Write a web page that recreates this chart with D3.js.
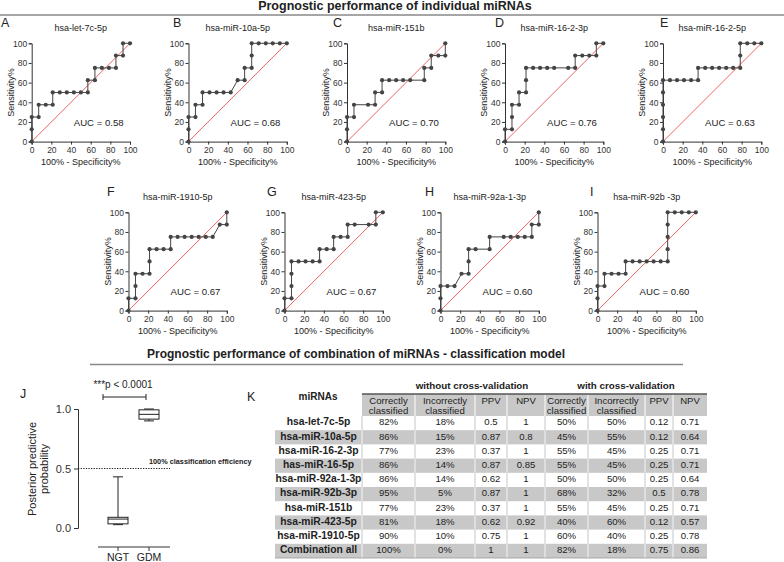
<!DOCTYPE html>
<html><head><meta charset="utf-8">
<script src="https://cdn.jsdelivr.net/npm/d3@7"></script>
<style>body{margin:0;background:#fff} svg{display:block;font-family:"Liberation Sans",Arial,Helvetica,sans-serif}</style>
</head><body><svg id="c" width="784" height="562"></svg>
<script>
// ---------- DATA ----------
const rocTitles = ["hsa-let-7c-5p","hsa-miR-10a-5p","hsa-miR-151b","hsa-miR-16-2-3p","hsa-miR-16-2-5p","hsa-miR-1910-5p","hsa-miR-423-5p","hsa-miR-92a-1-3p","hsa-miR-92b -3p"];
const rocLetters = ["A","B","C","D","E","F","G","H","I"];
const rocAUC = ["0.58","0.68","0.70","0.76","0.63","0.67","0.67","0.60","0.60"];
const rocA = [[0,0],[0,12.5],[0,25],[7.1,25],[7.1,37.5],[14.3,37.5],[21.4,37.5],[21.4,50],[28.6,50],[35.7,50],[42.9,50],[50,50],[57.1,50],[57.1,62.5],[64.3,62.5],[64.3,75],[71.4,75],[78.6,75],[85.7,75],[85.7,87.5],[92.9,87.5],[92.9,100],[100,100]];
const rocB = [[0,0],[0,12.5],[0,25],[7.1,25],[7.1,37.5],[14.3,37.5],[14.3,50],[21.4,50],[28.6,50],[35.7,50],[42.9,50],[50,62.5],[57.1,62.5],[57.1,75],[64.3,75],[64.3,87.5],[64.3,100],[71.4,100],[78.6,100],[85.7,100],[92.9,100],[100,100]];
const rocC = [[0,0],[0,12.5],[0,25],[7.1,25],[7.1,37.5],[21.4,37.5],[28.6,37.5],[28.6,50],[35.7,50],[35.7,62.5],[42.9,62.5],[50,62.5],[57.1,62.5],[64.3,62.5],[78.6,62.5],[78.6,75],[85.7,75],[85.7,87.5],[92.9,87.5],[100,87.5],[100,100]];
const rocD = [[0,0],[0,12.5],[7.1,12.5],[7.1,25],[7.1,37.5],[14.3,37.5],[14.3,50],[21.4,50],[21.4,62.5],[21.4,75],[28.6,75],[35.7,75],[42.9,75],[50,75],[64.3,75],[71.4,75],[71.4,87.5],[78.6,87.5],[85.7,87.5],[92.9,87.5],[92.9,100],[100,100]];
const rocE = [[0,0],[0,12.5],[0,25],[0,37.5],[0,50],[0,62.5],[7.1,62.5],[14.3,62.5],[21.4,62.5],[28.6,62.5],[35.7,62.5],[35.7,75],[42.9,75],[50,75],[57.1,75],[64.3,75],[71.4,75],[78.6,75],[78.6,87.5],[78.6,100],[85.7,100],[92.9,100],[100,100]];
const rocF = [[0,0],[0,12.5],[7.1,12.5],[7.1,25],[7.1,37.5],[14.3,37.5],[21.4,37.5],[21.4,50],[21.4,62.5],[28.6,62.5],[35.7,62.5],[42.9,62.5],[42.9,75],[50,75],[57.1,75],[64.3,75],[71.4,75],[78.6,75],[85.7,75],[92.9,87.5],[100,87.5],[100,100]];
const rocG = [[0,0],[0,12.5],[7.1,12.5],[7.1,25],[7.1,37.5],[7.1,50],[14.3,50],[21.4,50],[28.6,50],[35.7,50],[35.7,62.5],[42.9,62.5],[50,62.5],[50,75],[57.1,75],[64.3,75],[64.3,87.5],[71.4,87.5],[85.7,87.5],[92.9,87.5],[92.9,100],[100,100]];
const rocH = [[0,0],[0,12.5],[0,25],[7.1,25],[14.3,25],[21.4,37.5],[28.6,37.5],[28.6,50],[28.6,62.5],[35.7,62.5],[50,62.5],[50,75],[64.3,75],[71.4,75],[78.6,75],[85.7,75],[92.9,75],[92.9,87.5],[100,87.5],[100,100]];
const rocI = [[0,0],[0,12.5],[0,25],[7.1,25],[7.1,37.5],[14.3,37.5],[21.4,37.5],[28.6,37.5],[28.6,50],[35.7,50],[42.9,50],[50,50],[57.1,50],[64.3,50],[71.4,50],[71.4,62.5],[71.4,75],[71.4,87.5],[71.4,100],[78.6,100],[85.7,100],[92.9,100],[100,100]];
const rocData = [rocA,rocB,rocC,rocD,rocE,rocF,rocG,rocH,rocI];
const rocTicks = [0,20,40,60,80,100];

const boxGroups = ["NGT","GDM"];
const boxMin = [0.028,0.90];
const boxQ1  = [0.035,0.915];
const boxMed = [0.075,0.955];
const boxQ3  = [0.09,0.993];
const boxMax = [0.43,1.0];
const boxTicks = [0.0,0.5,1.0];

const tblNames = ["hsa-let-7c-5p","hsa-miR-10a-5p","hsa-miR-16-2-3p","has-miR-16-5p","hsa-miR-92a-1-3p","hsa-miR-92b-3p","hsa-miR-151b","hsa-miR-423-5p","hsa-miR-1910-5p","Combination all"];
const woCorrect = ["82%","86%","77%","86%","86%","95%","77%","81%","90%","100%"];
const woIncorrect = ["18%","15%","23%","14%","14%","5%","23%","18%","10%","0%"];
const woPPV = ["0.5","0.87","0.37","0.87","0.62","0.87","0.37","0.62","0.75","1"];
const woNPV = ["1","0.8","1","0.85","1","1","1","0.92","1","1"];
const cvCorrect = ["50%","45%","55%","55%","50%","68%","55%","40%","60%","82%"];
const cvIncorrect = ["50%","55%","45%","45%","50%","32%","45%","60%","40%","18%"];
const cvPPV = ["0.12","0.12","0.25","0.25","0.25","0.5","0.25","0.12","0.25","0.75"];
const cvNPV = ["0.71","0.64","0.71","0.71","0.64","0.78","0.71","0.57","0.78","0.86"];

// ---------- LAYOUT ----------
const svg = d3.select("#c");
const txt = "#222";
const panelX0 = [31.7,188.5,347,505,663,128.5,284.5,440.5,597.5];
const panelTop = [43.3,43.3,43.3,43.3,43.3,212.3,212.3,212.3,212.3];
const letterX = [1,173,333,495,660,107,267,425,590];
const PW = 98.3, PH = 98.3;

// Section titles
svg.append("text").attr("x",395).attr("y",10).attr("text-anchor","middle")
  .attr("font-size",12.5).attr("font-weight","bold").attr("fill",txt)
  .text("Prognostic performance of individual miRNAs");
svg.append("line").attr("x1",0).attr("x2",784).attr("y1",15).attr("y2",15)
  .attr("stroke","#888").attr("stroke-width",1.5);
svg.append("text").attr("x",356).attr("y",358).attr("text-anchor","middle")
  .attr("font-size",12).attr("font-weight","bold").attr("fill",txt)
  .text("Prognostic performance of combination of miRNAs - classification model");
svg.append("line").attr("x1",90).attr("x2",683).attr("y1",364.5).attr("y2",364.5)
  .attr("stroke","#888").attr("stroke-width",1.5);

// ROC panels
rocData.forEach((pts,i)=>{
  const x0 = panelX0[i], top = panelTop[i];
  const x = d3.scaleLinear().domain([0,100]).range([x0,x0+PW]);
  const y = d3.scaleLinear().domain([0,100]).range([top+PH,top]);
  const g = svg.append("g");
  g.append("text").attr("x",letterX[i]).attr("y",top-16).attr("font-size",12.5).attr("fill",txt).text(rocLetters[i]);
  g.append("text").attr("x",x0+PW/2).attr("y",top-12).attr("text-anchor","middle").attr("font-size",9).attr("fill",txt).text(rocTitles[i]);
  // diagonal reference line
  g.append("line").attr("x1",x(0)).attr("y1",y(0)).attr("x2",x(100)).attr("y2",y(100))
    .attr("stroke","#ec6464").attr("stroke-width",1);
  const ay = g.append("g").attr("transform",`translate(${x0},0)`)
    .call(d3.axisLeft(y).tickValues(rocTicks).tickSize(3).tickPadding(1.5));
  const ax = g.append("g").attr("transform",`translate(0,${top+PH})`)
    .call(d3.axisBottom(x).tickValues(rocTicks).tickSize(3).tickPadding(2.5));
  [ay,ax].forEach(a=>{
    a.selectAll("text").attr("font-size",8.5).attr("fill","#333").attr("font-family",null);
    a.selectAll("path,line").attr("stroke","#333");
  });
  g.append("text").attr("transform",`translate(${x0-18},${top+PH/2}) rotate(-90)`)
    .attr("text-anchor","middle").attr("font-size",9).attr("fill",txt).text("Sensitivity%");
  g.append("text").attr("x",x0+PW/2).attr("y",top+PH+23.5).attr("text-anchor","middle")
    .attr("font-size",9).attr("fill",txt).text("100% - Specificity%");
  g.append("path").datum(pts).attr("fill","none").attr("stroke","#444").attr("stroke-width",1)
    .attr("d",d3.line().x(d=>x(d[0])).y(d=>y(d[1])));
  g.selectAll("circle").data(pts).join("circle").attr("cx",d=>x(d[0])).attr("cy",d=>y(d[1]))
    .attr("r",2.1).attr("fill","#444");
  g.append("text").attr("x",x0+67).attr("y",y(19.5)+3.5).attr("text-anchor","middle")
    .attr("font-size",9.6).attr("fill",txt).text("AUC = "+rocAUC[i]);
});

// Panel J
{
  const yb = d3.scaleLinear().domain([0,1]).range([528,409]);
  const xb = d3.scalePoint().domain(boxGroups).range([118,149]);
  const g = svg.append("g");
  g.append("text").attr("x",20).attr("y",398).attr("font-size",12.5).attr("fill",txt).text("J");
  const ay = g.append("g").attr("transform","translate(78,0)")
    .call(d3.axisLeft(yb).tickValues(boxTicks).tickFormat(d3.format(".1f")).tickSize(4).tickPadding(3));
  ay.selectAll("text").attr("font-size",11).attr("fill","#333");
  ay.selectAll("path,line").attr("stroke","#333");
  const ax = g.append("g").attr("transform","translate(0,547)");
  ax.append("line").attr("x1",98).attr("x2",170).attr("stroke","#333");
  ax.selectAll("line.t").data(boxGroups).join("line").attr("class","t")
    .attr("x1",d=>xb(d)).attr("x2",d=>xb(d)).attr("y1",0).attr("y2",4).attr("stroke","#333");
  ax.selectAll("text").data(boxGroups).join("text").attr("x",d=>xb(d)).attr("y",13.6)
    .attr("text-anchor","middle").attr("font-size",10.5).attr("fill",txt).text(d=>d);
  g.append("text").attr("transform","translate(36,469) rotate(-90)").attr("text-anchor","middle")
    .attr("font-size",11).attr("fill",txt).text("Posterior predictive");
  g.append("text").attr("transform","translate(48,469) rotate(-90)").attr("text-anchor","middle")
    .attr("font-size",11).attr("fill",txt).text("probability");
  // dotted 0.5 line
  g.append("line").attr("x1",78).attr("x2",170).attr("y1",yb(0.5)).attr("y2",yb(0.5))
    .attr("stroke","#222").attr("stroke-width",1.1).attr("stroke-dasharray","1.3,1.3");
  g.append("text").attr("x",149).attr("y",yb(0.5)-5).attr("font-size",7.3).attr("font-weight","bold")
    .attr("fill",txt).text("100% classification efficiency");
  const bw = 20;
  boxGroups.forEach((k,i)=>{
    const cx = xb(k);
    g.append("line").attr("x1",cx).attr("x2",cx).attr("y1",yb(boxMax[i])).attr("y2",yb(boxQ3[i])).attr("stroke","#222");
    g.append("line").attr("x1",cx).attr("x2",cx).attr("y1",yb(boxQ1[i])).attr("y2",yb(boxMin[i])).attr("stroke","#222");
    g.append("line").attr("x1",cx-bw/4).attr("x2",cx+bw/4).attr("y1",yb(boxMax[i])).attr("y2",yb(boxMax[i])).attr("stroke","#222");
    g.append("line").attr("x1",cx-bw/4).attr("x2",cx+bw/4).attr("y1",yb(boxMin[i])).attr("y2",yb(boxMin[i])).attr("stroke","#222");
    g.append("rect").attr("x",cx-bw/2).attr("width",bw).attr("y",yb(boxQ3[i])).attr("height",yb(boxQ1[i])-yb(boxQ3[i]))
      .attr("fill","#fff").attr("stroke","#222");
    g.append("line").attr("x1",cx-bw/2).attr("x2",cx+bw/2).attr("y1",yb(boxMed[i])).attr("y2",yb(boxMed[i])).attr("stroke","#222");
  });
  g.append("text").attr("x",123).attr("y",388).attr("text-anchor","middle").attr("font-size",10).attr("fill",txt).text("***p < 0.0001");
  g.append("path").attr("d","M103,394V400M103,397H146M146,394V400").attr("stroke","#222").attr("fill","none");
}

// Panel K table
{
  const g = svg.append("g");
  g.append("text").attr("x",247).attr("y",401).attr("font-size",12.5).attr("fill",txt).text("K");
  const colEdges = [275,362,415,475,507,545,588,645,673,707];
  const headTop = 394, headBot = 416, rowH = 14.2;
  const cols = [woCorrect,woIncorrect,woPPV,woNPV,cvCorrect,cvIncorrect,cvPPV,cvNPV];
  const gray = "#c8c8c8";
  g.append("text").attr("x",472).attr("y",388.5).attr("text-anchor","middle").attr("font-size",9.8).attr("font-weight","bold").attr("fill",txt).text("without cross-validation");
  g.append("text").attr("x",626).attr("y",388.5).attr("text-anchor","middle").attr("font-size",9.8).attr("font-weight","bold").attr("fill",txt).text("with cross-validation");
  g.append("text").attr("x",318).attr("y",399.5).attr("text-anchor","middle").attr("font-size",10).attr("font-weight","bold").attr("fill",txt).text("miRNAs");
  g.append("rect").attr("x",362).attr("y",headTop).attr("width",707-362).attr("height",headBot-headTop).attr("fill",gray);
  const heads = [["Correctly","classified"],["Incorrectly","classified"],["PPV"],["NPV"],["Correctly","classified"],["Incorrectly","classified"],["PPV"],["NPV"]];
  heads.forEach((h,j)=>{
    const cx = (colEdges[j+1]+colEdges[j+2])/2;
    h.forEach((line,k)=>g.append("text").attr("x",cx).attr("y",headTop+10+k*9.6).attr("text-anchor","middle")
      .attr("font-size",9.6).attr("fill",txt).text(line));
    if(j<7) g.append("line").attr("x1",colEdges[j+2]).attr("x2",colEdges[j+2]).attr("y1",headTop).attr("y2",headBot).attr("stroke","#fff");
  });
  g.append("line").attr("x1",362).attr("x2",707).attr("y1",headTop).attr("y2",headTop).attr("stroke","#555").attr("stroke-width",1.4);
  tblNames.forEach((nm,r)=>{
    const y0 = headBot + r*rowH;
    const isGray = r%2===1;
    if(isGray) g.append("rect").attr("x",275).attr("y",y0).attr("width",707-275).attr("height",rowH).attr("fill",gray);
    colEdges.slice(1,-1).forEach(e=>g.append("line").attr("x1",e).attr("x2",e).attr("y1",y0).attr("y2",y0+rowH)
      .attr("stroke",isGray?"#fff":"#b8b8b8").attr("stroke-width",0.8));
    g.append("text").attr("x",318.5).attr("y",y0+9.3).attr("text-anchor","middle").attr("font-size",10.3).attr("font-weight","bold").attr("fill",txt).text(nm);
    cols.forEach((c,j)=>{
      g.append("text").attr("x",(colEdges[j+1]+colEdges[j+2])/2).attr("y",y0+9.3).attr("text-anchor","middle")
        .attr("font-size",9.6).attr("fill",txt).text(c[r]);
    });
  });
  g.append("line").attr("x1",275).attr("x2",707).attr("y1",headBot+10*rowH).attr("y2",headBot+10*rowH).attr("stroke","#999").attr("stroke-width",0.8);
}
</script></body></html>
